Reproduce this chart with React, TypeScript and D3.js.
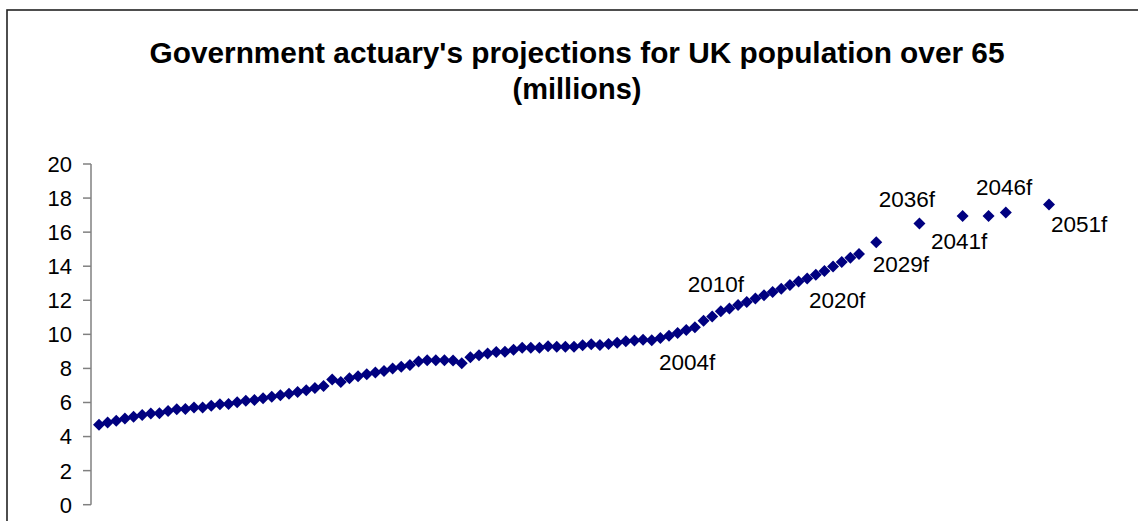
import React from "react";
import * as d3 from "d3";

const W = 1138;
const H = 521;

const titleLines = ["Government actuary's projections for UK population over 65", "(millions)"];

// Annual years 1941–2029, then the five-yearly forecast points
const annualYears = d3.range(1941, 2030);
const forecastYears = [2031, 2036, 2041, 2044, 2046, 2051];
const years = [...annualYears, ...forecastYears];

// Population over 65 (millions)
const values = [
  4.70, 4.82, 4.93, 5.06, 5.17, 5.27, 5.36, 5.37, 5.50, 5.61,
  5.62, 5.70, 5.71, 5.81, 5.90, 5.91, 6.01, 6.10, 6.15, 6.25,
  6.34, 6.42, 6.52, 6.62, 6.72, 6.85, 6.97, 7.35, 7.20, 7.42,
  7.54, 7.66, 7.76, 7.85, 8.00, 8.10, 8.20, 8.40, 8.48, 8.48,
  8.48, 8.46, 8.30, 8.65, 8.78, 8.88, 8.97, 8.98, 9.10, 9.22,
  9.22, 9.22, 9.30, 9.27, 9.27, 9.27, 9.36, 9.42, 9.38, 9.44,
  9.50, 9.60, 9.64, 9.68, 9.66, 9.78, 9.92, 10.08, 10.26, 10.42,
  10.80, 11.05, 11.35, 11.52, 11.72, 11.90, 12.10, 12.30, 12.48, 12.68,
  12.90, 13.10, 13.28, 13.50, 13.72, 13.98, 14.25, 14.50, 14.72,
  15.40, 16.50, 16.95, 16.95, 17.15, 17.62,
];

const yTicks = [0, 2, 4, 6, 8, 10, 12, 14, 16, 18, 20];

// Annotation texts and their anchors in data units (year, millions)
const labelTexts = ["2004f", "2010f", "2020f", "2029f", "2036f", "2041f", "2046f", "2051f"];
const labelYears = [2005.85, 2009.17, 2023.21, 2030.59, 2031.28, 2037.34, 2042.55, 2051.24];
const labelValues = [7.91, 12.51, 11.57, 13.68, 17.46, 15.01, 18.19, 16.03];

export default function App() {
  const x = d3.scaleLinear().domain([1941, 2051]).range([99, 1049]);
  const y = d3.scaleLinear().domain([0, 20]).range([504.7, 164]);
  const marker = d3.symbol(d3.symbolSquare, 72)() as string;
  const font = "Liberation Sans, Arial, sans-serif";
  const axisX = 91;

  return (
    <svg
      width={W}
      height={H}
      style={{ position: "absolute", left: 0, top: 0, background: "#fff" }}
      fontFamily={font}
    >
      <rect x={0} y={0} width={W} height={H} fill="#fff" />
      <rect x={7} y={10} width={W + 20} height={H + 20} fill="none" stroke="#222" strokeWidth={1.6} />

      <text
        x={577}
        y={63}
        textAnchor="middle"
        fontSize={29}
        fontWeight="bold"
        fill="#000"
        textLength={855}
        lengthAdjust="spacingAndGlyphs"
      >
        {titleLines[0]}
      </text>
      <text x={577} y={99} textAnchor="middle" fontSize={29} fontWeight="bold" fill="#000">
        {titleLines[1]}
      </text>

      {/* Y axis */}
      <line x1={axisX} x2={axisX} y1={y(20)} y2={y(0)} stroke="#808080" strokeWidth={1.5} />
      {yTicks.map((t) => (
        <g key={t}>
          <line x1={axisX - 8} x2={axisX} y1={y(t)} y2={y(t)} stroke="#808080" strokeWidth={1.5} />
          <text x={72} y={y(t)} dy="0.36em" textAnchor="end" fontSize={22} fill="#000">
            {t}
          </text>
        </g>
      ))}

      {/* Markers */}
      {years.map((yr, i) => (
        <path
          key={yr}
          d={marker}
          transform={`translate(${x(yr)},${y(values[i])}) rotate(45)`}
          fill="#000080"
        />
      ))}

      {/* Annotations */}
      {labelTexts.map((t, i) => (
        <text key={t} x={x(labelYears[i])} y={y(labelValues[i])} fontSize={22.5} fill="#000">
          {t}
        </text>
      ))}
    </svg>
  );
}
